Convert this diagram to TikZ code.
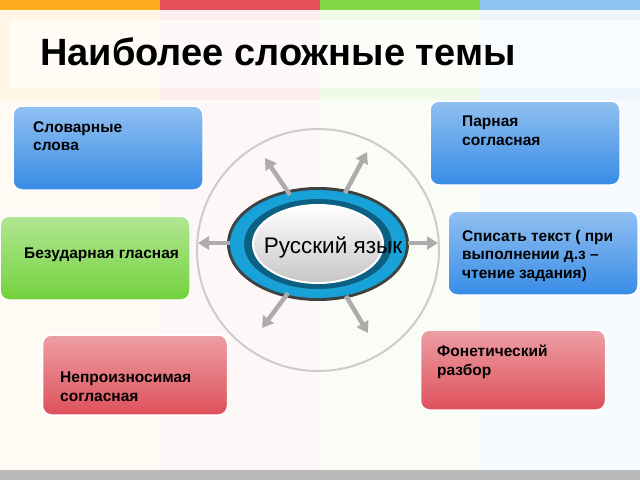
\documentclass[tikz,border=0pt]{standalone}
\usepackage{fontspec}
\setmainfont{Liberation Sans}
\usetikzlibrary{arrows.meta,positioning}
\definecolor{topor}{RGB}{252,170,30}
\definecolor{topre}{RGB}{228,80,90}
\definecolor{topgr}{RGB}{130,215,70}
\definecolor{topbl}{RGB}{140,195,240}
\definecolor{boxbl}{RGB}{55,140,230}
\definecolor{boxgr}{RGB}{115,210,60}
\definecolor{boxre}{RGB}{222,80,90}
\definecolor{ringc}{RGB}{20,160,215}
\tikzset{
  boxb/.style={draw=white,line width=1.5pt,rounded corners=9pt,top color=#1!55,bottom color=#1,minimum width=190pt,minimum height=84pt},
  lbl/.style={font=\bfseries\fontsize{15.5}{18.5}\selectfont,align=left,anchor=north west,inner sep=0pt},
  spoke/.style={-{Triangle[length=11pt,width=13pt]},line width=4.5pt,gray!65}
}
\begin{document}
\begin{tikzpicture}[x=1pt,y=-1pt]
 \useasboundingbox (0,0) rectangle (640,480);
 % background bands
 \fill[topor!12] (0,0) rectangle (160,470);
 \fill[topre!10] (160,0) rectangle (320,470);
 \fill[topgr!12] (320,0) rectangle (480,470);
 \fill[topbl!15] (480,0) rectangle (640,470);
 \fill[white,opacity=0.6] (0,100) rectangle (640,470);
 \fill[white,opacity=0.7] (10,20) rectangle (640,88);
 \fill[topor] (0,0) rectangle (160,10);
 \fill[topre] (160,0) rectangle (320,10);
 \fill[topgr] (320,0) rectangle (480,10);
 \fill[topbl] (480,0) rectangle (640,10);
 \fill[gray!55] (0,470) rectangle (640,480);
 \node[font=\bfseries\fontsize{38}{42}\selectfont,anchor=west,inner sep=0pt] (title) at (40,52) {Наиболее сложные темы};

 % centre
 \draw[gray!40,line width=2pt] (318,250) circle (121);
 \fill[gray!50!black] (318,244) ellipse (91 and 57);
 \shade[inner color=ringc!80,outer color=ringc] (318,244) ellipse (88 and 54);
 \fill[ringc!60!black] (318,244) ellipse (74 and 45);
 \shade[draw=white,line width=2pt,top color=white,bottom color=gray!45] (318,244) ellipse (65 and 39);
 \node[font=\fontsize{22.5}{26}\selectfont] (hub) at (333,247) {Русский язык};

 % spokes
 \coordinate (s1) at (290,195); \coordinate (e1) at (265,158);
 \coordinate (s2) at (345,193); \coordinate (e2) at (367,152);
 \coordinate (s3) at (230,243); \coordinate (e3) at (198,243);
 \coordinate (s4) at (408,243); \coordinate (e4) at (438,243);
 \coordinate (s5) at (288,293); \coordinate (e5) at (262,328);
 \coordinate (s6) at (346,296); \coordinate (e6) at (368,333);
 \foreach \i in {1,...,6}
  \draw[spoke] (s\i) -- (e\i);

 % topics
 \node[boxb=boxbl] (wrd) at (108,148) {};
 \node[lbl] (wrdt) at (33,121) {Словарные\\слова};
 \node[boxb=boxbl] (par) at (525,143) {};
 \node[lbl] (part) at (462,116) {Парная\\согласная};
 \node[boxb=boxgr] (vow) at (95,258) {};
 \node[lbl,anchor=west] (vowt) at (24,255) {Безударная гласная};
 \node[boxb=boxbl] (cpy) at (543,253) {};
 \node[lbl] (cpyt) at (462,230) {Списать текст ( при\\выполнении д.з –\\чтение задания)};
 \node[boxb=boxre,minimum height=80pt,minimum width=185pt] (mut) at (135,375) {};
 \node[lbl] (mutt) at (60,372) {Непроизносимая\\согласная};
 \node[boxb=boxre,minimum height=80pt,minimum width=185pt] (pho) at (513,370) {};
 \node[lbl] (phot) at (437,345) {Фонетический\\разбор};
\end{tikzpicture}
\end{document}
